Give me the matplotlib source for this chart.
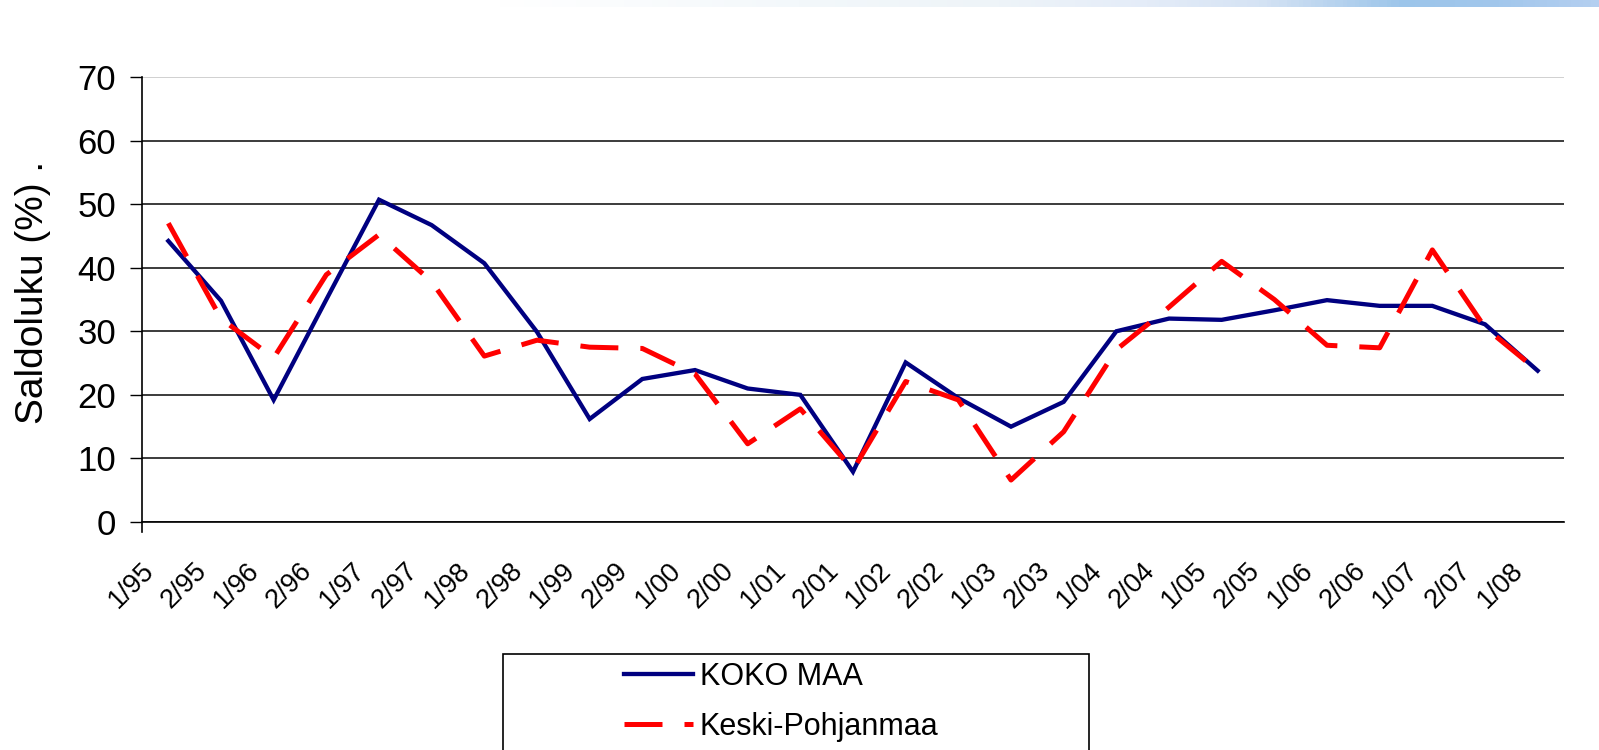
# coding: utf-8

# Saldoluku: KOKO MAA vs. Keski-Pohjanmaa, puolivuosittain 1/95 - 1/08
import numpy as np
import matplotlib
matplotlib.use("Agg")
import matplotlib.pyplot as plt
from matplotlib import font_manager
from matplotlib.colors import LinearSegmentedColormap
from matplotlib.patches import Rectangle
from matplotlib.transforms import ScaledTranslation

plt.rcParams['font.family'] = ['Liberation Sans', 'DejaVu Sans']

# Data
periods = ["1/95", "2/95", "1/96", "2/96", "1/97", "2/97", "1/98", "2/98",
           "1/99", "2/99", "1/00", "2/00", "1/01", "2/01", "1/02", "2/02",
           "1/03", "2/03", "1/04", "2/04", "1/05", "2/05", "1/06", "2/06",
           "1/07", "2/07", "1/08"]
koko_maa = [44.2, 34.8, 19.2, 35.0, 50.7, 46.7, 40.7, 29.9, 16.2, 22.5,
            23.9, 21.0, 20.0, 7.9, 25.1, 19.5, 15.0, 18.9, 30.0, 32.0,
            31.8, 33.3, 34.9, 34.0, 34.0, 31.1, 23.8]
keski_pohjanmaa = [47.0, 32.0, 25.8, 38.9, 45.2, 37.8, 26.1, 28.6, 27.5, 27.3,
                   23.3, 12.3, 17.8, 8.2, 22.1, 19.2, 6.6, 14.2, 27.1, 33.8,
                   41.0, 35.0, 27.8, 27.4, 42.8, 30.6, 23.8]
series_names = ["KOKO MAA", "Keski-Pohjanmaa"]
y_ticks = [0, 10, 20, 30, 40, 50, 60, 70]

# legend uses a narrow face in the original; fall back to smaller regular text
installed = {f.name for f in font_manager.fontManager.ttflist}
if "Liberation Sans Narrow" in installed:
    legend_font = {"family": "Liberation Sans Narrow", "size": 25}
else:
    legend_font = {"family": "Liberation Sans", "size": 22}
leg_px = legend_font["size"] * 100 / 72

fig = plt.figure(figsize=(15.99, 7.5), dpi=100)
ax = fig.add_axes([142 / 1599, 1 - 522 / 750, 1422 / 1599, 445 / 750])

x = np.arange(len(periods))
ax.plot(x, koko_maa, color="#000080", lw=3.1, solid_joinstyle="miter",
        label=series_names[0], zorder=3)
ax.plot(x, keski_pohjanmaa, color="#ff0000", lw=3.6, dashes=(7.6, 4.4),
        dash_capstyle="butt", label=series_names[1], zorder=4)

ax.set_xlim(-0.5, len(periods) - 0.5)
ax.set_ylim(0, 70)
ax.set_yticks(y_ticks)
ax.set_xticks(x)
ax.set_xticklabels([])

# rotated category labels, placed like Excel does (end of text left of the point)
offset = ScaledTranslation(-18 / 100, -45 / 100, fig.dpi_scale_trans)
for xi, lab in zip(x, periods):
    ax.text(xi, 0, lab, transform=ax.get_xaxis_transform() + offset,
            rotation=45, ha="right", va="center", rotation_mode="anchor",
            fontsize=19.5)

ax.tick_params(axis="x", length=0)
ax.tick_params(axis="y", direction="out", length=8.5, width=1.0,
               pad=10, labelsize=25)

ax.yaxis.grid(True, color="#1a1a1a", lw=1.2)
ax.get_ygridlines()[-1].set_color("#c8c8c8")
ax.set_axisbelow(True)

for side in ["top", "right"]:
    ax.spines[side].set_visible(False)
ax.spines["left"].set_linewidth(1.2)
ax.spines["left"].set_bounds(-1.6, 70)
ax.spines["bottom"].set_linewidth(1.2)

ax.set_ylabel("Saldoluku (%) .", fontsize=28)
ax.yaxis.set_label_coords(-0.064, 0.515)

# Legend box (cut off by the bottom edge like in the original)
fig.patches.append(Rectangle((503 / 1599, -0.05), 586 / 1599, 0.05 + 1 - 654 / 750,
                             transform=fig.transFigure, fill=False,
                             edgecolor="black", lw=1.2))
fig.legend(loc="upper left", bbox_to_anchor=(624 / 1599, 1 - 662 / 750),
           frameon=False, prop=legend_font, borderpad=0, borderaxespad=0,
           handlelength=69 / leg_px, handletextpad=7 / leg_px,
           labelspacing=0.65)

# Thin gradient strip along the top edge
strip = fig.add_axes([0, 1 - 7 / 750, 1, 7 / 750])
cmap = LinearSegmentedColormap.from_list("strip", [
    (0.0, "#ffffff"), (0.31, "#ffffff"), (0.5, "#f3f8fb"), (0.625, "#eef4f8"),
    (0.72, "#e4ecf8"), (0.79, "#d5e3f4"), (0.84, "#b5d2ee"), (0.88, "#9cc5ea"),
    (0.94, "#a2c7ec"), (1.0, "#b4cff0")])
strip.imshow(np.linspace(0, 1, 400).reshape(1, -1), aspect="auto", cmap=cmap)
strip.axis("off")

fig.savefig("out.png", dpi=100)
